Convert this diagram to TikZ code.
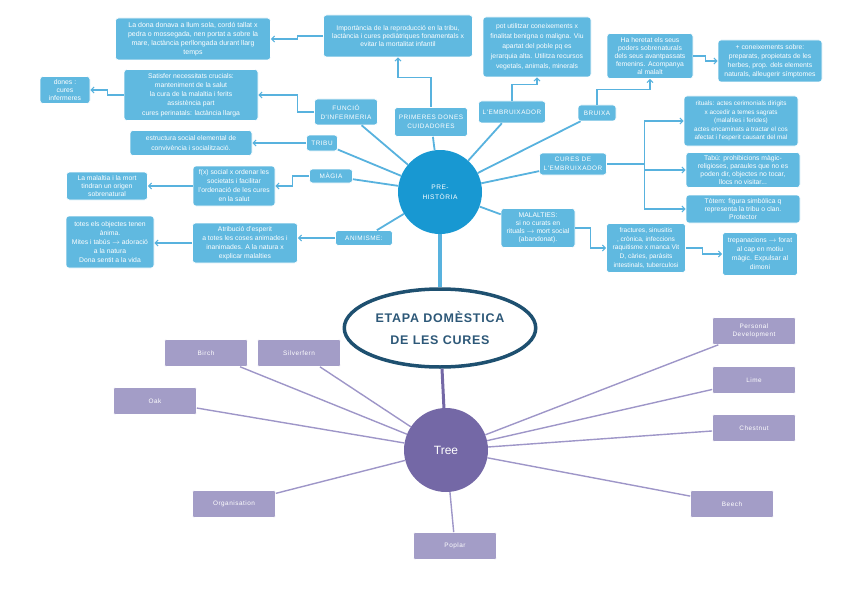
\documentclass[tikz,border=0pt]{standalone}
\usepackage{fontspec}
\setmainfont{Liberation Sans}
\newfontfamily\tagfont[LetterSpace=8]{Liberation Sans}
\newfontfamily\titlefont[LetterSpace=6]{Liberation Sans}
\usetikzlibrary{arrows.meta,positioning,calc,shapes.geometric}
\definecolor{boxblue}{RGB}{96,185,224}
\definecolor{lineblue}{RGB}{88,178,222}
\definecolor{coreblue}{RGB}{24,152,210}
\definecolor{ringteal}{RGB}{30,80,112}
\definecolor{titleteal}{RGB}{45,88,120}
\definecolor{boxlilac}{RGB}{163,157,199}
\definecolor{linelilac}{RGB}{158,150,200}
\definecolor{corelilac}{RGB}{116,104,166}
\tikzset{
  bl/.style={fill=boxblue,draw=white,line width=0.6pt,rounded corners=3pt,text=white,
    align=center,inner sep=1pt,font=\fontsize{6.8}{8}\selectfont},
  tag/.style={bl,font=\tagfont\fontsize{6.4}{9}\selectfont},
  li/.style={fill=boxlilac,draw=white,line width=0.6pt,rounded corners=2pt,text=white,
    align=center,minimum width=83pt,minimum height=27pt,font=\tagfont\fontsize{6.4}{8.5}\selectfont},
  spoke/.style={draw=lineblue,line width=1.8pt},
  arr/.style={draw=lineblue,line width=1.1pt,-{Straight Barb[length=3pt,width=6pt]}},
  lspoke/.style={draw=linelilac,line width=1.4pt},
}
\begin{document}
\begin{tikzpicture}[x=1pt,y=-1pt]
  \useasboundingbox (0,0) rectangle (848,599);
  % centres
  \node[circle,fill=coreblue,minimum size=84pt,text=white,align=center,
    font=\tagfont\fontsize{6.6}{10}\selectfont] (pre) at (440,192) {PRE-\\HISTÒRIA};
  \node[ellipse,draw=ringteal,line width=3.5pt,fill=white,minimum width=162pt,minimum height=78pt,
    align=center,text=titleteal,font=\titlefont\bfseries\fontsize{12.5}{22}\selectfont]
    (etapa) at (440,328) {ETAPA DOMÈSTICA\\DE LES CURES};
  \node[circle,fill=corelilac,minimum size=84pt,text=white,font=\fontsize{12}{14}\selectfont]
    (tree) at (446,450) {Tree};
  % branques
  \node[tag,minimum width=63pt,minimum height=26pt] (fun) at (346,112) {FUNCIÓ\\D'INFERMERIA};
  \node[tag,minimum width=73pt,minimum height=29pt] (prim) at (431,122) {PRIMERES DONES\\CUIDADORES};
  \node[tag,minimum width=67pt,minimum height=22pt] (emb) at (512,112) {L'EMBRUIXADOR};
  \node[tag,minimum width=38pt,minimum height=16pt] (bru) at (597,113) {BRUIXA};
  \node[tag,minimum width=31pt,minimum height=16pt] (tri) at (322,143) {TRIBU};
  \node[tag,minimum width=67pt,minimum height=22pt] (cur) at (573,164) {CURES DE\\L'EMBRUIXADOR};
  \node[tag,minimum width=43pt,minimum height=14pt] (mag) at (331,176) {MÀGIA};
  \node[tag,minimum width=74pt,minimum height=39pt,font=\fontsize{6.8}{8}\selectfont] (mal) at (538,228)
    {MALALTIES:\\si no curats en\\rituals $\rightarrow$ mort social\\(abandonat).};
  \node[tag,minimum width=57pt,minimum height=15pt] (ani) at (364,238) {ANIMISME:};
  % fulles
  \node[bl,minimum width=155pt,minimum height=42pt,font=\fontsize{7}{8.8}\selectfont] (dona) at (193,39)
    {La dona donava a llum sola, cordó tallat x\\pedra o mossegada, nen portat a sobre la\\mare, lactància perllongada durant llarg\\temps};
  \node[bl,minimum width=149pt,minimum height=42pt] (imp) at (398,36)
    {Importància de la reproducció en la tribu,\\lactància i cures pediàtriques fonamentals x\\evitar la mortalitat infantil};
  \node[bl,minimum width=108pt,minimum height=60pt,font=\fontsize{6.8}{10}\selectfont] (pot) at (537,47)
    {pot utilitzar coneixements x\\finalitat benigna o maligna. Viu\\apartat del poble pq es\\jerarquia alta. Utilitza recursos\\vegetals, animals, minerals};
  \node[bl,minimum width=86pt,minimum height=45pt] (her) at (650,56)
    {Ha heretat els seus\\poders sobrenaturals\\dels seus avantpassats\\femenins. Acompanya\\al malalt};
  \node[bl,minimum width=104pt,minimum height=42pt,font=\fontsize{6.8}{9}\selectfont] (con) at (770,61)
    {+ coneixements sobre:\\preparats, propietats de les\\herbes, prop. dels elements\\naturals, alleugerir símptomes};
  \node[bl,minimum width=50pt,minimum height=27pt] (dones) at (65,90) {dones :\\cures\\infermeres};
  \node[bl,minimum width=134pt,minimum height=51pt,font=\fontsize{6.8}{9.2}\selectfont] (sat) at (191,95)
    {Satisfer necessitats crucials:\\manteniment de la salut\\la cura de la malaltia i ferits\\assistència part\\cures perinatals: lactància llarga};
  \node[bl,minimum width=122pt,minimum height=25pt,font=\fontsize{6.8}{9.2}\selectfont] (est) at (191,143)
    {estructura social elemental de\\convivència i socialització.};
  \node[bl,minimum width=114pt,minimum height=50pt,font=\fontsize{6.4}{8.4}\selectfont] (rit) at (741,121)
    {rituals: actes cerimonials dirigits\\x accedir a temes sagrats\\(malalties i ferides)\\actes encaminats a tractar el cos\\afectat i l'esperit causant del mal};
  \node[bl,minimum width=114pt,minimum height=35pt] (tab) at (743,170)
    {Tabú: prohibicions màgic-\\religioses, paraules que no es\\poden dir, objectes no tocar,\\llocs no visitar...};
  \node[bl,minimum width=82pt,minimum height=40pt,font=\fontsize{6.8}{9}\selectfont] (fx) at (234,186)
    {f(x) social x ordenar les\\societats i facilitar\\l'ordenació de les cures\\en la salut};
  \node[bl,minimum width=81pt,minimum height=28pt] (mor) at (107,186)
    {La malaltia i la mort\\tindran un origen\\sobrenatural};
  \node[bl,minimum width=114pt,minimum height=28pt] (tot) at (743,209)
    {Tòtem: figura simbòlica q\\representa la tribu o clan.\\Protector};
  \node[bl,minimum width=88pt,minimum height=52pt,font=\fontsize{6.8}{9}\selectfont] (tes) at (110,242)
    {totes els objectes tenen\\ànima.\\Mites i tabús $\rightarrow$ adoració\\a la natura\\Dona sentit a la vida};
  \node[bl,minimum width=105pt,minimum height=40pt,font=\fontsize{6.8}{9}\selectfont] (atr) at (245,243)
    {Atribució d'esperit\\a totes les coses animades i\\inanimades. A la natura x\\explicar malalties};
  \node[bl,minimum width=79pt,minimum height=49pt,font=\fontsize{6.6}{8.6}\selectfont] (fra) at (646,248)
    {fractures, sinusitis\\, crònica, infeccions\\raquitisme x manca Vit\\D, càries, paràsits\\intestinals, tuberculosi};
  \node[bl,minimum width=75pt,minimum height=43pt,font=\fontsize{6.8}{9}\selectfont] (tre) at (760,254)
    {trepanacions $\rightarrow$ forat\\al cap en motiu\\màgic. Expulsar al\\dimoni};
  % arbre
  \node[li] (birch) at (206,353) {Birch};
  \node[li] (silver) at (299,353) {Silverfern};
  \node[li] (oak) at (155,401) {Oak};
  \node[li] (org) at (234,504) {Organisation};
  \node[li] (pop) at (455,546) {Poplar};
  \node[li] (pers) at (754,331) {Personal\\Development};
  \node[li] (lime) at (754,380) {Lime};
  \node[li] (chest) at (754,428) {Chestnut};
  \node[li] (beech) at (732,504) {Beech};
  % connectors
  \foreach \n in {fun,prim,emb,bru,cur,mal,ani,mag,tri}
    \draw[spoke] (pre) -- (\n);
  \draw[spoke,line width=4pt] (pre) -- (etapa);
  \draw[draw=corelilac,line width=3pt] (etapa) -- (tree);
  \foreach \n in {birch,silver,oak,org,pop,pers,lime,chest,beech}
    \draw[lspoke] (tree) -- (\n);
  \draw[arr] (fun.west) -- ++(-17,0) |- (sat.east);
  \draw[arr] (sat.west) -- ++(-16,0) |- (dones.east);
  \draw[arr] (imp.west) -- ++(-26,0) |- (dona.east);
  \draw[arr] (prim.north) -- ++(0,-30) -| (imp.south);
  \draw[arr] (emb.north) -- ++(0,-16) -| (pot.south);
  \draw[arr] (bru.north) -- ++(0,-15) -| (her.south);
  \draw[arr] (her.east) -- ++(12,0) |- (con.west);
  \coordinate (cj) at ($(cur.east)+(38,0)$);
  \draw[arr] (cur.east) -- (cj) |- (rit.west);
  \draw[arr] (cj) |- (tab.west);
  \draw[arr] (cj) |- (tot.west);
  \draw[arr] (mal.east) -- ++(15,0) |- (fra.west);
  \draw[arr] (fra.east) -- ++(17,0) |- (tre.west);
  \draw[arr] (tri.west) -- (tri.west -| est.east);
  \draw[arr] (mag.west) -- ++(-17,0) |- (fx.east);
  \draw[arr] (fx.west) -- (fx.west -| mor.east);
  \draw[arr] (ani.west) -- (ani.west -| atr.east);
  \draw[arr] (atr.west) -- (atr.west -| tes.east);
\end{tikzpicture}
\end{document}
